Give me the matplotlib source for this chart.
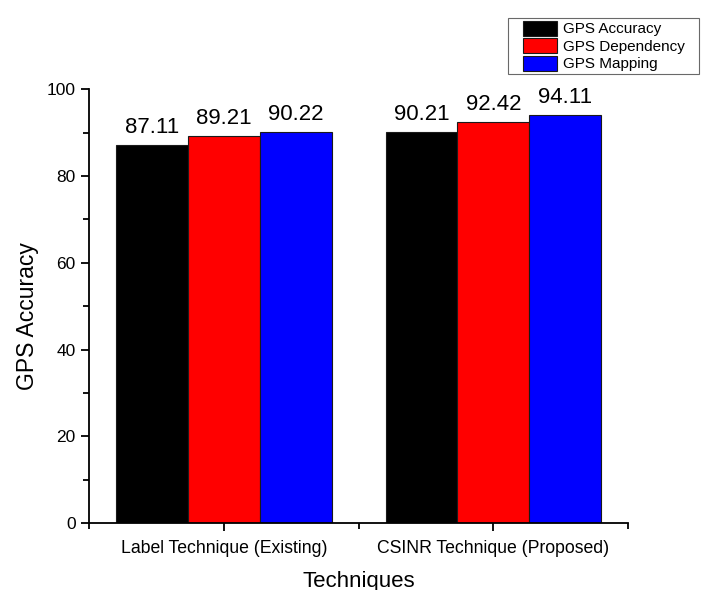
import matplotlib.pyplot as plt
import numpy as np
from matplotlib.patches import Rectangle
from matplotlib.container import BarContainer
from matplotlib.legend_handler import HandlerPatch

plt.rcParams['font.family'] = ['Liberation Sans', 'DejaVu Sans']

techniques = ['Label Technique (Existing)', 'CSINR Technique (Proposed)']
series = ['GPS Accuracy', 'GPS Dependency', 'GPS Mapping']
accuracy = [87.11, 90.21]
dependency = [89.21, 92.42]
mapping = [90.22, 94.11]
colors = ['#000000', '#ff0000', '#0000ff']

fig = plt.figure(figsize=(7.01, 5.90), dpi=100)
ax = fig.add_axes([0.127, 0.1136, 0.769, 0.735])

x = np.arange(1, len(techniques) + 1)
w = 0.8 / 3
handles = []
for i, (vals, col, name) in enumerate(zip([accuracy, dependency, mapping], colors, series)):
    bars = ax.bar(x + (i - 1) * w, vals, width=w, color=col, edgecolor='#1a1a1a',
                  linewidth=0.8, label=name)
    ax.bar_label(bars, labels=['%.2f' % v for v in vals], padding=5, fontsize=16)
    handles.append(bars)

ax.set_xlim(0.5, 2.5)
ax.set_ylim(0, 100)
ax.set_xticks(x)
ax.set_xticklabels(techniques, fontsize=12.7)
ax.set_xticks([0.5, 1.5, 2.5], minor=True)
ax.set_yticks(np.arange(0, 101, 20))
ax.set_yticks(np.arange(10, 100, 20), minor=True)
ax.tick_params(axis='y', labelsize=12.5)
ax.tick_params(axis='x', pad=6)
ax.tick_params(which='major', length=6, width=1.3, direction='out')
ax.tick_params(which='minor', length=4, width=1.3, direction='out')
ax.spines['top'].set_visible(False)
ax.spines['right'].set_visible(False)
ax.spines['left'].set_linewidth(1.3)
ax.spines['bottom'].set_linewidth(1.3)

ax.set_xlabel('Techniques', fontsize=16, labelpad=10)
ax.set_ylabel('GPS Accuracy', fontsize=16.5)
ax.yaxis.set_label_coords(-0.093, 0.477)


# legend swatch indented from the frame's left edge
def swatch(legend, orig_handle, xdescent, ydescent, width, height, fontsize):
    off = 0.25 * width
    return Rectangle((-xdescent + off, -ydescent), width - off, height)


def from_first_bar(legend_handle, orig_handle):
    legend_handle.update_from(orig_handle.patches[0])


leg = fig.legend(handles=handles, loc='upper left',
                 bbox_to_anchor=(0.725, 0.97, 0.272, 0), mode='expand',
                 fontsize=11, frameon=True, fancybox=False, edgecolor='#444444',
                 borderpad=0.2, labelspacing=0.12, handlelength=3.0,
                 handleheight=1.12, handletextpad=0.4, borderaxespad=0,
                 handler_map={BarContainer: HandlerPatch(patch_func=swatch,
                                                         update_func=from_first_bar)})
leg.get_frame().set_linewidth(0.8)

fig.savefig('out.png', dpi=100)
